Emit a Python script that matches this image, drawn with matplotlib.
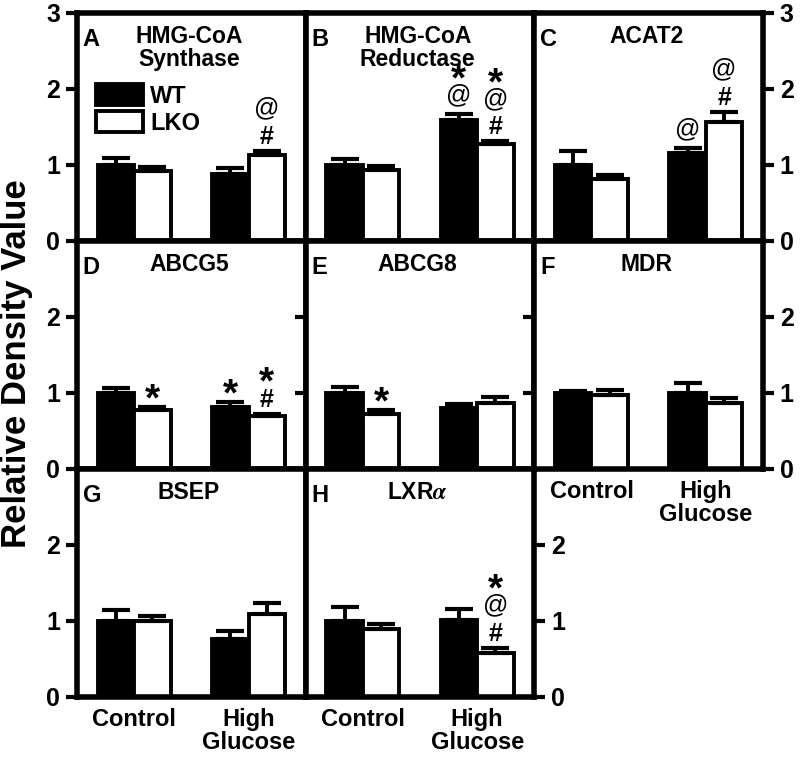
import matplotlib.pyplot as plt
import numpy as np

plt.rcParams['font.family'] = ['Liberation Sans', 'DejaVu Sans']
plt.rcParams['font.weight'] = 'bold'
plt.rcParams['mathtext.fontset'] = 'stix'

# ------------ DATA ------------
groups = ["Control", "High\nGlucose"]
panel_letters = ["A", "B", "C", "D", "E", "F", "G", "H"]
gene_names = ["HMG-CoA\nSynthase", "HMG-CoA\nReductase", "ACAT2", "ABCG5",
              "ABCG8", "MDR", "BSEP", "LXR$\\alpha$"]

wt_mean = [[1.00, 0.88], [1.00, 1.59], [1.00, 1.16], [1.00, 0.82],
           [1.00, 0.80], [1.00, 1.00], [1.00, 0.76], [1.00, 1.01]]
wt_err = [[0.09, 0.08], [0.08, 0.08], [0.18, 0.06], [0.06, 0.06],
          [0.08, 0.05], [0.03, 0.13], [0.14, 0.11], [0.18, 0.15]]
lko_mean = [[0.92, 1.13], [0.93, 1.27], [0.81, 1.56], [0.77, 0.70],
            [0.72, 0.87], [0.98, 0.87], [1.00, 1.09], [0.90, 0.58]]
lko_err = [[0.06, 0.06], [0.06, 0.04], [0.06, 0.14], [0.04, 0.03],
           [0.05, 0.08], [0.06, 0.07], [0.07, 0.15], [0.06, 0.07]]

# significance marks, listed bottom -> top
wt_marks = [["", ""], ["", "@*"], ["", "@"], ["", "*"],
            ["", ""], ["", ""], ["", ""], ["", ""]]
lko_marks = [["", "#@"], ["", "#@*"], ["", "#@"], ["*", "#*"],
             ["*", ""], ["", ""], ["", ""], ["", "#@*"]]

# ------------ LAYOUT ------------
W, H = 800, 757
left_px, right_px, top_px, bottom_px = 77, 763, 13, 697
cell_w = (right_px - left_px) / 3
cell_h = (bottom_px - top_px) / 3
grid_pos = [(0, 0), (0, 1), (0, 2), (1, 0), (1, 1), (1, 2), (2, 0), (2, 1)]

SPINE_LW = 4
BAR_LW = 2.8
BAR_W = 0.32


def stack_marks(ax, x, top, marks):
    cursor = 7  # pixels above the error cap
    for m in marks:
        if m == "#":
            base, fs, h, wt = cursor, 18, 17, "bold"
        elif m == "@":
            base, fs, h, wt = cursor + 5, 18, 21, "normal"
        else:
            base, fs, h, wt = cursor - 10, 28, 14, "bold"
        ax.annotate(m, xy=(x, top), xytext=(0, base * 0.72), textcoords="offset points",
                    ha="center", va="baseline", fontsize=fs, fontweight=wt,
                    annotation_clip=False)
        cursor += h + 6


fig = plt.figure(figsize=(W / 100, H / 100), dpi=100)
x = np.arange(len(groups))

for i, (r, c) in enumerate(grid_pos):
    l = (left_px + c * cell_w) / W
    b = 1 - (top_px + (r + 1) * cell_h) / H
    ax = fig.add_axes([l, b, cell_w / W, cell_h / H])

    wt = np.array(wt_mean[i])
    lko = np.array(lko_mean[i])
    ax.bar(x - BAR_W / 2, wt, BAR_W, color="black", edgecolor="black", linewidth=BAR_LW,
           label="WT", zorder=2)
    ax.bar(x + BAR_W / 2, lko, BAR_W, color="white", edgecolor="black", linewidth=BAR_LW,
           label="LKO", zorder=2)
    ax.errorbar(x - BAR_W / 2, wt, yerr=[np.zeros(2), wt_err[i]], fmt="none", ecolor="black",
                elinewidth=2.8, capsize=10, capthick=3, zorder=3)
    ax.errorbar(x + BAR_W / 2, lko, yerr=[np.zeros(2), lko_err[i]], fmt="none", ecolor="black",
                elinewidth=2.8, capsize=10, capthick=3, zorder=3)

    for j in range(2):
        stack_marks(ax, x[j] - BAR_W / 2, wt[j] + wt_err[i][j], wt_marks[i][j])
        stack_marks(ax, x[j] + BAR_W / 2, lko[j] + lko_err[i][j], lko_marks[i][j])

    ax.set_xlim(-0.5, 1.5)
    ax.set_ylim(0, 3)
    for s in ax.spines.values():
        s.set_linewidth(SPINE_LW)

    ax.text(0.025, 0.935, panel_letters[i], transform=ax.transAxes, ha="left", va="top",
            fontsize=17)
    ax.text(0.49, 0.947, gene_names[i], transform=ax.transAxes, ha="center", va="top",
            fontsize=16.5, linespacing=1.0)

    ticks = [0, 1, 2, 3] if r == 0 else [0, 1, 2]
    ax.set_yticks(ticks)
    # every tick points outward from its own spine
    ax.tick_params(axis="y", direction="out", length=8, width=3, labelsize=18, pad=4,
                   left=(c == 0 or r == 1), right=(r < 2 or c == 1),
                   labelleft=(c == 0), labelright=(c == 2 or (r == 2 and c == 1)))
    if r == 2 or (r == 1 and c == 2):
        ax.set_xticks(x, groups)
        ax.tick_params(axis="x", length=0, labelsize=17, pad=8)
        for t in ax.get_xticklabels():
            t.set_linespacing(1.0)
    else:
        ax.set_xticks([])

    if i == 0:
        ax.legend(loc="upper left", bbox_to_anchor=((96 - 77) / cell_w, 1 - (84 - 13) / cell_h),
                  frameon=False, fontsize=17, handlelength=2.0, handleheight=1.0,
                  handletextpad=0.3, labelspacing=0.15, borderaxespad=0, borderpad=0)

fig.text(0.021, 0.519, "Relative Density Value", rotation=90, ha="center", va="center",
         fontsize=25)

fig.savefig("out.png", dpi=100)
